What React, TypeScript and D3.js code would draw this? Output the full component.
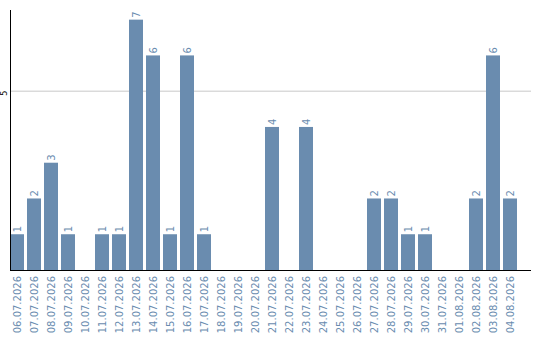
import React from "react";
import * as d3 from "d3";

const dates = [
  "06.07.2026", "07.07.2026", "08.07.2026", "09.07.2026", "10.07.2026",
  "11.07.2026", "12.07.2026", "13.07.2026", "14.07.2026", "15.07.2026",
  "16.07.2026", "17.07.2026", "18.07.2026", "19.07.2026", "20.07.2026",
  "21.07.2026", "22.07.2026", "23.07.2026", "24.07.2026", "25.07.2026",
  "26.07.2026", "27.07.2026", "28.07.2026", "29.07.2026", "30.07.2026",
  "31.07.2026", "01.08.2026", "02.08.2026", "03.08.2026", "04.08.2026",
];
const counts = [
  1, 2, 3, 1, 0, 1, 1, 7, 6, 1,
  6, 1, 0, 0, 0, 4, 0, 4, 0, 0,
  0, 2, 2, 1, 1, 0, 0, 2, 6, 2,
];
const yTicks = [5];

const W = 540;
const H = 340;
const left = 10;
const right = 530;
const top = 10;
const base = 270;
const step = 17;
const gap = 3;
const barColor = "#6a8caf";
const font = "DejaVu Sans, sans-serif";

export default function App() {
  const x = d3
    .scaleBand<string>()
    .domain(dates)
    .range([left, left + step * dates.length - gap])
    .paddingInner(gap / step)
    .paddingOuter(0);
  const y = d3.scaleLinear().domain([0, 7.27]).range([base, top]);

  return (
    <svg
      width={W}
      height={H}
      style={{ position: "absolute", left: 0, top: 0, fontFamily: font }}
    >
      {yTicks.map((t) => (
        <g key={t}>
          <line x1={left} x2={right + 1} y1={y(t)} y2={y(t)} stroke="#c8c8c8" strokeWidth={1} />
          <text
            transform={`translate(7,${y(t) + 2}) rotate(-90)`}
            textAnchor="middle"
            fontSize={8}
            fill="#000"
          >
            {t}
          </text>
        </g>
      ))}
      {dates.map((d, i) => {
        const v = counts[i];
        const bx = x(d)!;
        const bw = x.bandwidth();
        const cx = bx + bw / 2;
        return (
          <g key={d}>
            {v > 0 && (
              <>
                <rect x={bx} y={y(v)} width={bw} height={base - y(v)} fill={barColor} />
                <text
                  transform={`translate(${cx + 3.5},${y(v) - 2}) rotate(-90)`}
                  textAnchor="start"
                  fontSize={10}
                  fill={barColor}
                >
                  {v}
                </text>
              </>
            )}
            <text
              transform={`translate(${cx + 3.5},${base + 6}) rotate(-90)`}
              textAnchor="end"
              fontSize={10}
              fill={barColor}
            >
              {d}
            </text>
          </g>
        );
      })}
      <line x1={left + 0.5} x2={left + 0.5} y1={top} y2={base} stroke="#000" strokeWidth={1} />
      <line x1={left} x2={right + 1} y1={base + 0.5} y2={base + 0.5} stroke="#000" strokeWidth={1} />
    </svg>
  );
}
